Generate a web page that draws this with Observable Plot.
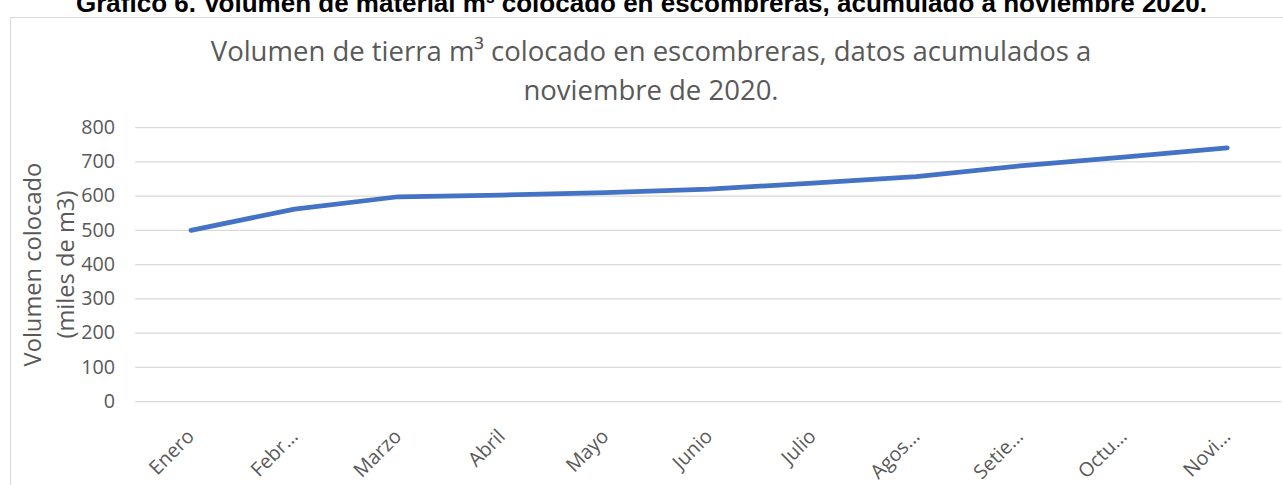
<!DOCTYPE html>
<html>
<head>
<meta charset="utf-8">
<script src="https://cdn.jsdelivr.net/npm/d3@7"></script>
<script src="https://cdn.jsdelivr.net/npm/@observablehq/plot@0.6"></script>
<style>
  body { margin: 0; background: #fff; }
  #wrap { position: relative; width: 1283px; height: 485px; overflow: hidden; background: #fff; }
  #frame { position: absolute; left: 10px; top: 17px; width: 1320px; height: 520px; border: 1.5px solid #d9d9d9; box-sizing: border-box; }
  #heading { position: absolute; left: 0; width: 1283px; top: -12px; text-align: center; font: bold 26px "Liberation Sans", Arial, sans-serif; color: #000; white-space: nowrap; line-height: 30px; }
  #title { position: absolute; left: 10px; width: 1282px; top: 31px; text-align: center; font: 27.5px "Open Sans", sans-serif; color: #595959; line-height: 39px; }
  #chart { position: absolute; left: 0; top: 110px; }
</style>
</head>
<body>
<div id="wrap">
  <div id="heading"></div>
  <div id="frame"></div>
  <div id="title"></div>
  <div id="chart"></div>
</div>
<script>
// ---- data ----
const encabezado = "Gráfico 6. Volumen de material m³ colocado en escombreras, acumulado a noviembre 2020.";
const tituloLineas = ["Volumen de tierra m³ colocado en escombreras, datos acumulados a", "noviembre de 2020."];
const etiquetaY = "Volumen colocado\n(miles de m3)";
const meses = ["Enero", "Febrero", "Marzo", "Abril", "Mayo", "Junio", "Julio", "Agosto", "Setiembre", "Octubre", "Noviembre"];
const etiquetasX = ["Enero", "Febr…", "Marzo", "Abril", "Mayo", "Junio", "Julio", "Agos…", "Setie…", "Octu…", "Novi…"];
const volumen = [500, 562, 598, 603, 610, 620, 638, 657, 688, 714, 741];
const yTicks = [0, 100, 200, 300, 400, 500, 600, 700, 800];

document.getElementById("heading").textContent = encabezado;
document.getElementById("title").innerHTML = tituloLineas.map(t => t.replace(/</g, "&lt;")).join("<br>");

const plot = Plot.plot({
  width: 1300,
  height: 375,
  marginLeft: 137,
  marginRight: 2,
  marginTop: 17.3,
  marginBottom: 80,
  style: { fontFamily: "'Open Sans', sans-serif", background: "transparent", color: "#595959", overflow: "visible" },
  x: { type: "point", domain: meses, padding: 0.5, label: null },
  y: { domain: [0, 800], label: null },
  marks: [
    Plot.gridY(yTicks, { stroke: "#d9d9d9", strokeOpacity: 1, strokeWidth: 1.3 }),
    Plot.axisY(yTicks, { tickSize: 0, tickPadding: 21, fontSize: 20, label: null }),
    Plot.axisX({ tickSize: 0, tickRotate: -45, tickPadding: 32, fontSize: 20, label: null,
      tickFormat: d => etiquetasX[meses.indexOf(d)] }),
    Plot.line(meses, { x: d => d, y: (d, i) => volumen[i], stroke: "#4472C4", strokeWidth: 4.8,
      strokeLinecap: "round", strokeLinejoin: "round" }),
    Plot.text([etiquetaY], { frameAnchor: "left", textAnchor: "middle", rotate: -90, dx: -90,
      fontSize: 24, lineHeight: 1.4, fill: "#595959" })
  ]
});
document.getElementById("chart").appendChild(plot);
</script>
</body>
</html>
